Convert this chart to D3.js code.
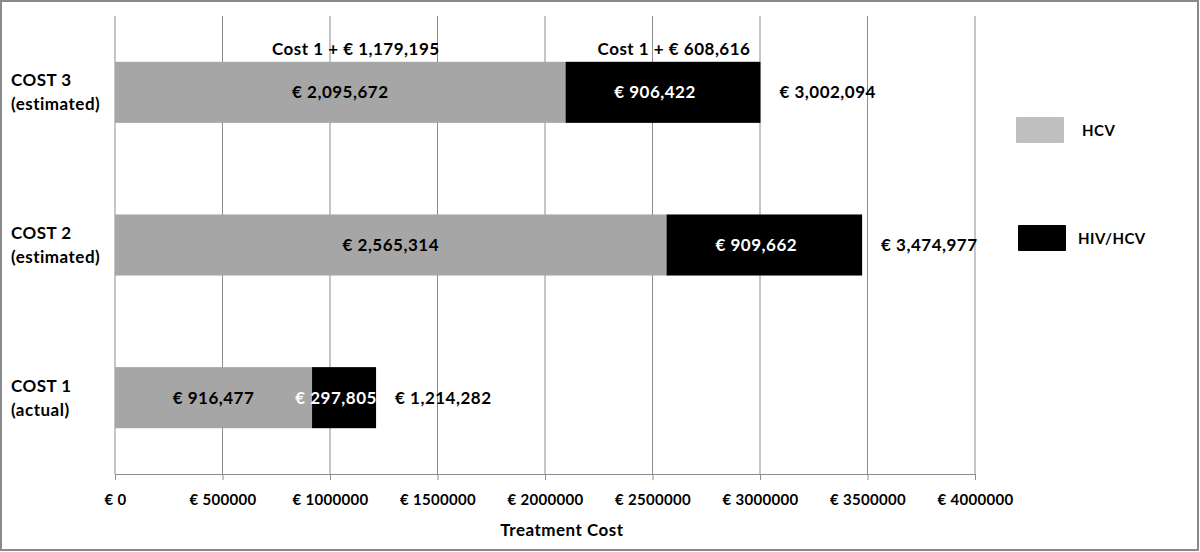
<!DOCTYPE html>
<html>
<head>
<meta charset="utf-8">
<script src="https://cdnjs.cloudflare.com/ajax/libs/d3/7.8.5/d3.min.js"></script>
<style>
    body { margin: 0; background: #fff; }
    svg text { font-family: Lato, "Open Sans", sans-serif; font-weight: bold; letter-spacing: 0.5px; }
</style>
</head>
<body>
<svg id="chart" width="1200" height="552"></svg>
<script>
    // data
    var categories = ["COST 3", "COST 2", "COST 1"];
    var subLabels = ["(estimated)", "(estimated)", "(actual)"];
    var hcv = [2095672, 2565314, 916477];
    var hivHcv = [906422, 909662, 297805];
    var totals = [3002094, 3474977, 1214282];
    var ticks = [0, 500000, 1000000, 1500000, 2000000, 2500000, 3000000, 3500000, 4000000];
    var notes = ["Cost 1 + € 1,179,195", "Cost 1 + € 608,616"];
    var noteAt = [1120000, 2600000];   // centre of each note, in axis units
    var series = ["HCV", "HIV/HCV"];

    var fmt = d3.format(",");
    var svg = d3.select("#chart");

    var x = d3.scaleLinear().domain([0, 4000000]).range([115, 975]);
    var y = d3.scaleBand().domain(categories).range([16, 474]).paddingInner(0.6).paddingOuter(0.3);

    // frame
    svg.append("rect")
        .attr("x", 1).attr("y", 1).attr("width", 1197).attr("height", 549)
        .attr("fill", "none").attr("stroke", "#8a8a8a").attr("stroke-width", 2);

    // vertical grid
    svg.append("g").selectAll("line")
        .data(ticks)
        .enter().append("line")
        .attr("x1", d => x(d)).attr("x2", d => x(d))
        .attr("y1", 16).attr("y2", 474)
        .attr("stroke", "#8c8c8c").attr("stroke-width", 1);

    // x axis
    var xAxis = svg.append("g")
        .attr("transform", "translate(0,474)")
        .call(d3.axisBottom(x).tickValues(ticks).tickSize(6).tickPadding(14)
            .tickFormat(d => "€ " + d));
    xAxis.select(".domain").attr("stroke", "#8c8c8c");
    xAxis.selectAll(".tick line").attr("stroke", "#8c8c8c");
    xAxis.selectAll("text").attr("font-size", 15).attr("fill", "#000")
        .style("font-family", "Lato, sans-serif").style("font-weight", "bold")
        .style("letter-spacing", "0.3px");

    svg.append("text")
        .attr("x", 562).attr("y", 536)
        .attr("text-anchor", "middle").attr("font-size", 17)
        .text("Treatment Cost");

    // bars
    var rows = svg.append("g").selectAll("g")
        .data(categories)
        .enter().append("g");

    rows.append("rect")
        .attr("x", x(0))
        .attr("y", d => y(d))
        .attr("width", (d, i) => x(hcv[i]) - x(0))
        .attr("height", y.bandwidth())
        .attr("fill", "#a6a6a6");

    rows.append("rect")
        .attr("x", (d, i) => x(hcv[i]))
        .attr("y", d => y(d))
        .attr("width", (d, i) => x(hcv[i] + hivHcv[i]) - x(hcv[i]))
        .attr("height", y.bandwidth())
        .attr("fill", "#000");

    rows.append("text")
        .attr("x", (d, i) => x(hcv[i] / 2))
        .attr("y", d => y(d) + y.bandwidth() / 2)
        .attr("dy", "0.35em").attr("text-anchor", "middle")
        .attr("font-size", 17).attr("fill", "#000")
        .text((d, i) => "€ " + fmt(hcv[i]));

    rows.append("text")
        .attr("x", (d, i) => x(hcv[i] + hivHcv[i] / 2) - 8)
        .attr("y", d => y(d) + y.bandwidth() / 2)
        .attr("dy", "0.35em").attr("text-anchor", "middle")
        .attr("font-size", 17).attr("fill", "#fff")
        .text((d, i) => "€ " + fmt(hivHcv[i]));

    rows.append("text")
        .attr("x", (d, i) => x(totals[i]) + 19)
        .attr("y", d => y(d) + y.bandwidth() / 2)
        .attr("dy", "0.35em")
        .attr("font-size", 17).attr("fill", "#000")
        .text((d, i) => "€ " + fmt(totals[i]));

    // category labels
    rows.append("text")
        .attr("x", 11)
        .attr("y", d => y(d) + y.bandwidth() / 2 - 12)
        .attr("dy", "0.35em")
        .attr("font-size", 17)
        .text(d => d);

    rows.append("text")
        .attr("x", 11)
        .attr("y", d => y(d) + y.bandwidth() / 2 + 12)
        .attr("dy", "0.35em")
        .attr("font-size", 17)
        .text((d, i) => subLabels[i]);

    // notes above COST 3
    svg.append("g").selectAll("text")
        .data(notes)
        .enter().append("text")
        .attr("x", (d, i) => x(noteAt[i]))
        .attr("y", y(categories[0]) - 7)
        .attr("text-anchor", "middle")
        .attr("font-size", 17)
        .text(d => d);

    // legend
    var legend = svg.append("g").selectAll("g")
        .data(series)
        .enter().append("g")
        .attr("transform", (d, i) => "translate(" + (1016 + i * 2) + "," + (117 + i * 108) + ")");

    legend.append("rect")
        .attr("width", 48).attr("height", 26).attr("rx", 1)
        .attr("fill", (d, i) => i ? "#000" : "#bfbfbf");

    legend.append("text")
        .attr("x", (d, i) => i ? 60 : 66)
        .attr("y", 19)
        .attr("font-size", 15)
        .text(d => d);
</script>
</body>
</html>
